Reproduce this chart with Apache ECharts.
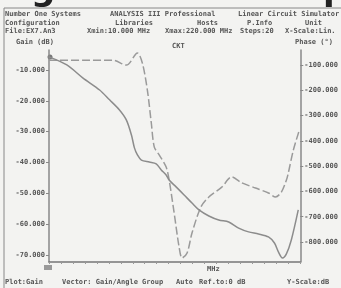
<!DOCTYPE html>
<html>
<head>
<meta charset="utf-8">
<script src="https://cdn.jsdelivr.net/npm/echarts@6/dist/echarts.min.js"></script>
<style>
  html, body { margin: 0; padding: 0; background: #f3f3f1; }
  #main { width: 341px; height: 288px; }
</style>
</head>
<body>
<div id="main"></div>
<script>
// frequencia (MHz) e ganho (dB) - curva tracejada
var freqGanho = [10, 38.2, 63.1, 74.7, 83.9, 88.0, 92.2, 95.5, 98.0, 102.2, 107.9, 110.4, 114.6, 118.7, 121.2,
  125.4, 129.5, 137.0, 143.6, 154.4, 162.7, 171.0, 182.6, 193.4, 199.3, 204.2, 208.4, 210.0, 214.2, 219.2];
var ganho = [-6.8, -6.8, -6.8, -8.4, -4.5, -7.7, -16.5, -27.2, -35.0, -37.6, -41.5, -45.7, -56.4, -67.4, -71.0,
  -69.4, -62.9, -54.4, -51.2, -48.0, -44.7, -46.6, -48.3, -49.9, -51.2, -49.6, -45.7, -43.4, -36.0, -29.5];

// frequencia (MHz) e fase (graus) - curva continua
var freqFase = [10, 24.9, 38.2, 52.3, 60.6, 68.9, 74.7, 78.9, 81.4, 83.9, 87.2, 93.8, 99.6, 103.8, 107.9, 110.4,
  116.2, 122.9, 129.5, 135.3, 143.6, 151.9, 160.2, 168.5, 176.8, 185.1, 193.4, 198.4, 201.7, 205.1, 208.4, 212.5, 218.3];
var fase = [-68, -100, -151, -199, -238, -278, -318, -377, -428, -456, -476, -484, -491, -515, -535, -555,
  -582, -614, -646, -673, -697, -713, -721, -745, -760, -768, -780, -804, -839, -863, -847, -792, -673];

var cabecalho = [
  ['Number One Systems', 5, 15], ['ANALYSIS III Professional', 110, 15], ['Linear Circuit Simulator', 238, 15],
  ['Configuration', 5, 24], ['Libraries', 115, 24], ['Hosts', 197, 24], ['P.Info', 247, 24], ['Unit', 305, 24],
  ['File:EX7.An3', 5, 32], ['Xmin:10.000 MHz', 87, 32], ['Xmax:220.000 MHz', 165, 32], ['Steps:20', 240, 32], ['X-Scale:Lin.', 285, 32],
  ['Gain (dB)', 16, 43], ['Phase (\u00b0)', 295, 43], ['CKT', 172, 47], ['MHz', 207, 270],
  ['Plot:Gain', 5, 283], ['Vector: Gain/Angle Group', 62, 283], ['Auto', 176, 283], ['Ref.to:0 dB', 199, 283], ['Y-Scale:dB', 287, 283]
];

function juntar(xs, ys) {
  var pontos = [];
  for (var i = 0; i < xs.length; i++) pontos.push([xs[i], ys[i]]);
  return pontos;
}

var corTexto = '#555';
var fonte = 'DejaVu Sans Mono';

var textos = cabecalho.map(function (t) {
  return {
    type: 'text', left: t[1], top: t[2] - 4,
    style: { text: t[0], fill: corTexto, font: 'bold 7px "' + fonte + '"' }
  };
});
// titulo grande da pagina, cortado no topo
textos.push({
  type: 'text', left: -4, top: -26, z: 10,
  style: { text: 'Fig. 7   Filter Response', fill: '#222', font: 'bold 34px "DejaVu Sans"' }
});
textos.push({ type: 'rect', shape: { x: 0, y: 0, width: 341, height: 7 }, style: { fill: 'rgba(243,243,241,0)' } });
textos.push({ type: 'rect', shape: { x: 44, y: 265, width: 8, height: 5 }, style: { fill: '#999' } });
textos.push({ type: 'circle', shape: { cx: 50, cy: 57, r: 2.5 }, style: { fill: '#777' } });
textos.push({ type: 'line', shape: { x1: 4, y1: 8, x2: 4, y2: 288 }, style: { stroke: '#888', lineWidth: 1 } });
textos.push({ type: 'line', shape: { x1: 4, y1: 8, x2: 341, y2: 8 }, style: { stroke: '#888', lineWidth: 1 } });

var myChart = echarts.init(document.getElementById('main'));
var option = {
  backgroundColor: '#f3f3f1',
  animation: false,
  grid: { left: 49, right: 39, top: 50, bottom: 26 },
  graphic: textos,
  xAxis: {
    type: 'value', min: 10, max: 220, interval: 10,
    axisLine: { lineStyle: { color: '#777', width: 1.5 } },
    axisTick: { show: true, length: 2, lineStyle: { color: '#999' } },
    axisLabel: { show: false },
    splitLine: { show: false }
  },
  yAxis: [
    {
      type: 'value', min: -72.3, max: -3.5, splitNumber: 7,
      axisLine: { show: true, lineStyle: { color: '#888', width: 1.5 } },
      axisTick: { show: true, length: 3, lineStyle: { color: '#888' } },
      axisLabel: {
        showMinLabel: false, showMaxLabel: false, margin: 4,
        color: corTexto, fontFamily: fonte, fontWeight: 'bold', fontSize: 7,
        formatter: function (v) { return Math.abs(v % 10) < 0.01 ? v.toFixed(3) : ''; }
      },
      splitLine: { show: false }
    },
    {
      type: 'value', min: -879, max: -41, splitNumber: 8,
      axisLine: { show: true, lineStyle: { color: '#888', width: 1.5 } },
      axisTick: { show: true, length: 3, lineStyle: { color: '#888' } },
      axisLabel: {
        showMinLabel: false, showMaxLabel: false, margin: 4,
        color: corTexto, fontFamily: fonte, fontWeight: 'bold', fontSize: 7,
        formatter: function (v) { return Math.abs(v % 100) < 0.01 ? v.toFixed(3) : ''; }
      },
      splitLine: { show: false }
    }
  ],
  series: [
    {
      name: 'Gain', type: 'line', yAxisIndex: 0, smooth: 0.3, symbol: 'none',
      data: juntar(freqGanho, ganho),
      lineStyle: { color: '#9a9a9a', width: 1.5, type: [8, 3] }
    },
    {
      name: 'Phase', type: 'line', yAxisIndex: 1, smooth: 0.3, symbol: 'none',
      data: juntar(freqFase, fase),
      lineStyle: { color: '#8c8c8c', width: 1.5 }
    }
  ]
};
myChart.setOption(option);
</script>
</body>
</html>
